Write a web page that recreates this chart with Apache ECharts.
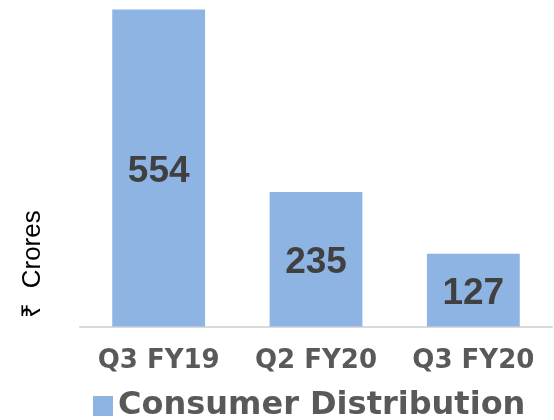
<!DOCTYPE html>
<html>
<head>
<meta charset="utf-8">
<script src="https://cdn.jsdelivr.net/npm/echarts@6/dist/echarts.min.js"></script>
<style>
  html, body { margin: 0; padding: 0; background: #fff; }
  #main { width: 554px; height: 420px; }
</style>
</head>
<body>
<div id="main"></div>
<script>
// values
const categories = ['Q3 FY19', 'Q2 FY20', 'Q3 FY20'];
const seriesName = 'Consumer Distribution';
const values = [554, 235, 127];
const axisTitle = '₹  Crores';

const myChart = echarts.init(document.getElementById('main'));
const option = {
  animation: false,
  grid: { left: 80, right: 2, top: 9.5, bottom: 93.5, outerBoundsMode: 'none' },
  legend: {
    data: [seriesName],
    left: 88,
    top: 385,
    icon: 'rect',
    itemWidth: 20,
    itemHeight: 20,
    itemGap: 9,
    textStyle: { fontFamily: 'DejaVu Sans', fontWeight: 'bold', fontSize: 32, color: '#595959' }
  },
  xAxis: {
    type: 'category',
    data: categories,
    axisLine: { lineStyle: { color: '#d9d9d9', width: 2 } },
    axisTick: { show: false },
    axisLabel: { interval: 0, hideOverlap: false, margin: 22, fontFamily: 'DejaVu Sans', fontWeight: 'bold', fontSize: 26, color: '#595959' }
  },
  yAxis: {
    type: 'value',
    min: 0,
    max: 554,
    show: false
  },
  graphic: [{
    type: 'text',
    x: 33,
    y: 264,
    rotation: Math.PI / 2,
    style: {
      text: axisTitle,
      fontFamily: 'Liberation Sans',
      fontSize: 26,
      fill: '#000',
      align: 'center',
      verticalAlign: 'middle'
    }
  }],
  series: [{
    name: seriesName,
    type: 'bar',
    data: values,
    barWidth: '59%',
    itemStyle: { color: '#8eb4e3' },
    label: {
      show: true,
      position: 'inside',
      offset: [0, 4],
      fontFamily: 'Liberation Sans',
      fontWeight: 'bold',
      fontSize: 37,
      color: '#404040'
    }
  }]
};
myChart.setOption(option);
</script>
</body>
</html>
